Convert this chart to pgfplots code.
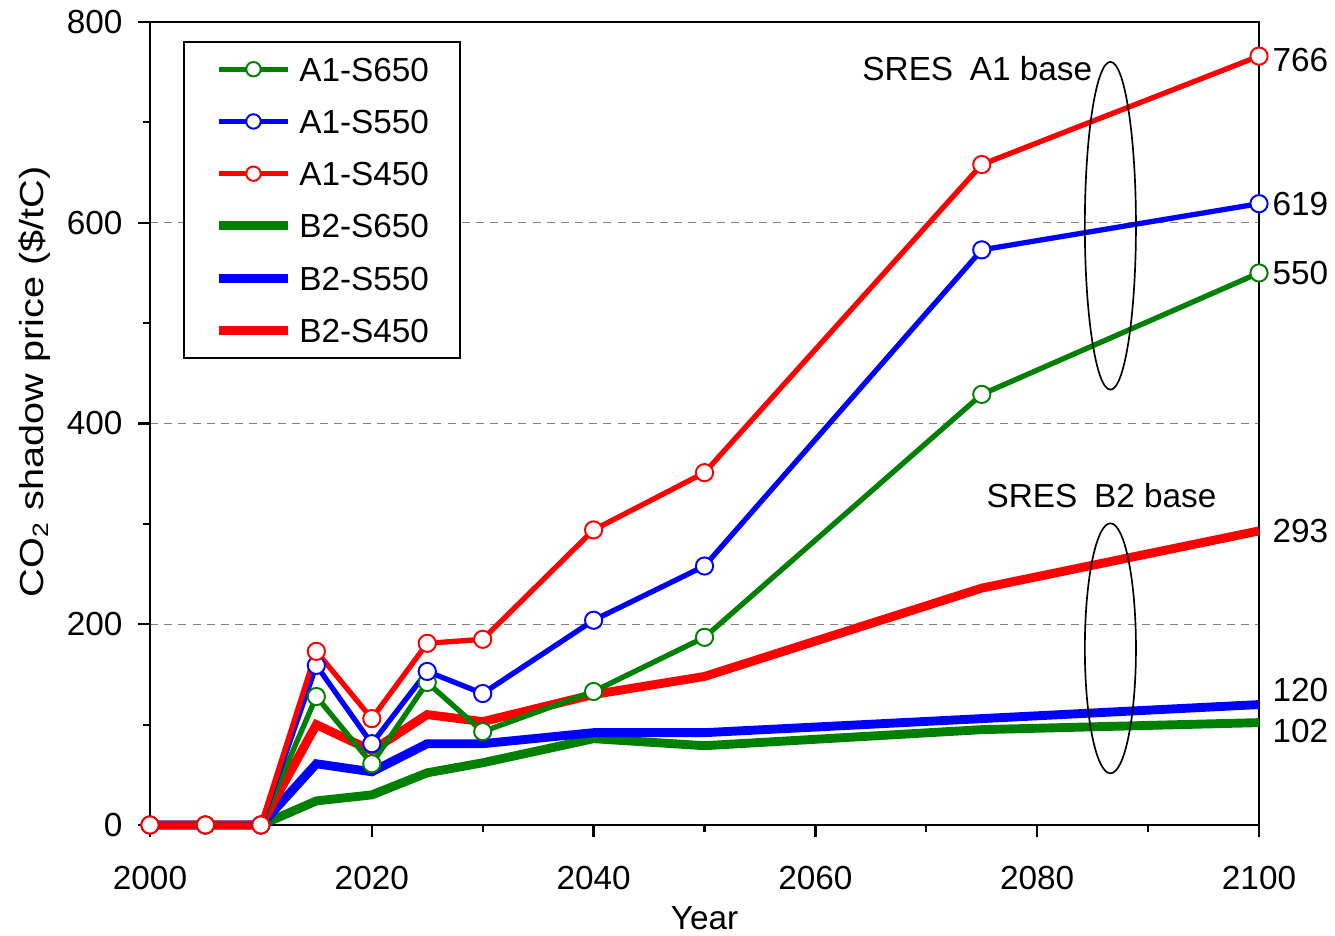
\documentclass[border=0pt]{standalone}
\usepackage{pgfplots}
\pgfplotsset{compat=1.18}
\usepackage{fontspec}
\setmainfont{Liberation Sans}
\definecolor{cgreen}{RGB}{0,128,0}
\definecolor{cblue}{RGB}{0,0,255}
\definecolor{cred}{RGB}{255,0,0}
\pgfplotsset{
  aone/.style={line width=1.9pt, mark=*, mark size=3.1pt, mark options={fill=white, line width=0.7pt}},
  btwo/.style={line width=3.2pt},
}
\begin{document}
\fontsize{12}{14}\selectfont
\begin{tikzpicture}
\begin{axis}[name=ax, scale only axis, width=399.24pt, height=289.08pt,
  xmin=2000, xmax=2100, ymin=0, ymax=800,
  xtick={2000,2020,...,2100}, ytick={0,200,...,800},
  minor xtick={2010,2030,...,2090}, minor ytick={100,300,...,700},
  tick pos=left, tick align=outside,
  major tick length=4.3pt, minor tick length=2.6pt,
  every tick/.style={black, line width=0.8pt},
  axis line style={line width=0.9pt},
  ymajorgrids, major grid style={gray, dash pattern=on 2.9pt off 2.2pt, line width=0.4pt},
  /pgf/number format/assume math mode=true,
  /pgf/number format/set thousands separator={},
  xticklabel style={yshift=-6.5pt},
  yticklabel style={xshift=-1.4pt},
  clip=false,
  legend cell align=left,
  legend style={at={(0.0298,0.9763)}, anchor=north west, draw=black, line width=0.7pt,
    inner xsep=11pt, inner ysep=5.5pt, row sep=10.2pt, column sep=2.5pt,
    nodes={inner sep=0pt, text height=8.6pt, text depth=0pt}},
  legend image code/.code={\draw[mark repeat=2,mark phase=2,#1, mark size=2.6pt] plot coordinates {(0pt,0pt) (12.4pt,0pt) (24.8pt,0pt)};},
]
% B2 first (drawn under)
\addplot[btwo, cgreen, forget plot] coordinates {(2000,0)(2005,0)(2010,0)(2015,24)(2020,30)(2025,52)(2030,62)(2040,86)(2050,79)(2075,95)(2100,102)};
\addplot[btwo, cblue, forget plot] coordinates {(2000,0)(2005,0)(2010,0)(2015,61)(2020,53)(2025,81)(2030,81)(2040,92)(2050,92)(2075,106)(2100,120)};
\addplot[btwo, cred, forget plot] coordinates {(2000,0)(2005,0)(2010,0)(2015,100)(2020,74)(2025,110)(2030,103)(2040,130)(2050,148)(2075,236)(2100,293)};
% A1
\addplot[aone, cgreen] coordinates {(2000,0)(2005,0)(2010,0)(2015,128)(2020,61)(2025,142)(2030,93)(2040,133)(2050,187)(2075,429)(2100,550)};
\addlegendentry{A1-S650}
\addplot[aone, cblue] coordinates {(2000,0)(2005,0)(2010,0)(2015,159)(2020,81)(2025,153)(2030,131)(2040,204)(2050,258)(2075,573)(2100,619)};
\addlegendentry{A1-S550}
\addplot[aone, cred] coordinates {(2000,0)(2005,0)(2010,0)(2015,173)(2020,106)(2025,181)(2030,185)(2040,294)(2050,351)(2075,658)(2100,766)};
\addlegendentry{A1-S450}
\addlegendimage{btwo, cgreen}
\addlegendentry{B2-S650}
\addlegendimage{btwo, cblue}
\addlegendentry{B2-S550}
\addlegendimage{btwo, cred}
\addlegendentry{B2-S450}
% ellipses
\draw[line width=0.6pt] (axis cs:2086.6,597) ellipse [x radius=9.2pt, y radius=59pt];
\draw[line width=0.6pt] (axis cs:2086.6,176) ellipse [x radius=9.2pt, y radius=45pt];
\node at (axis cs:2074.6,754) {SRES\hspace{0.5em}A1 base};
\node at (axis cs:2085.8,328) {SRES\hspace{0.5em}B2 base};
% end labels
\node[anchor=west, inner sep=0pt, xshift=4.7pt, yshift=-1.4pt] at (axis cs:2100,766) {766};
\node[anchor=west, inner sep=0pt, xshift=4.7pt] at (axis cs:2100,619) {619};
\node[anchor=west, inner sep=0pt, xshift=4.7pt] at (axis cs:2100,550) {550};
\node[anchor=west, inner sep=0pt, xshift=4.7pt] at (axis cs:2100,293) {293};
\node[anchor=west, inner sep=0pt, xshift=4.7pt, yshift=5.4pt] at (axis cs:2100,120) {120};
\node[anchor=west, inner sep=0pt, xshift=4.7pt, yshift=-2.9pt] at (axis cs:2100,102) {102};
% axis labels
\node at (rel axis cs:0.5,0) [yshift=-33.5pt] {Year};
\node[rotate=90] at (rel axis cs:-0.1037,0.552) {\scalebox{1.19}[1]{CO\textsubscript{2} shadow price (\$/tC)}};
\end{axis}
\pgfresetboundingbox
\path[use as bounding box] ([xshift=-54pt, yshift=-39.6pt]ax.south west) rectangle ([xshift=27.36pt, yshift=7.92pt]ax.north east);
\end{tikzpicture}
\end{document}
